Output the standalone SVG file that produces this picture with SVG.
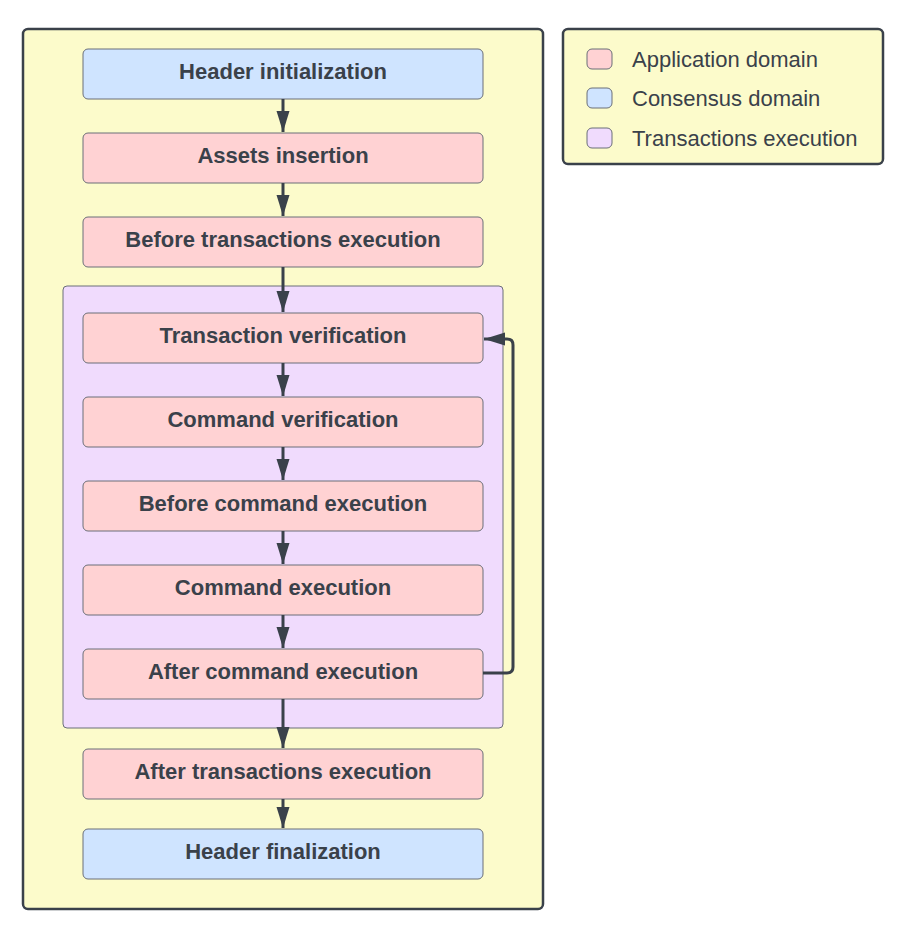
<svg xmlns="http://www.w3.org/2000/svg" width="906" height="931" viewBox="0 0 906 931">
<defs>
<style>
.cont{fill:#fcfbcb;stroke:#3a414a;stroke-width:2.5}
.grp{fill:#f0dbfd;stroke:#6b6f78;stroke-width:1}
.app{fill:#ffd2d3;stroke:#6b6f78;stroke-width:1}
.cons{fill:#cfe4ff;stroke:#6b6f78;stroke-width:1}
.lbl{font-family:"Liberation Sans",Arial,sans-serif;font-weight:bold;font-size:22px;fill:#3a414a;text-anchor:middle}
.leg{font-family:"Liberation Sans",Arial,sans-serif;font-size:22px;fill:#3a414a}
.edge{fill:none;stroke:#3a414a;stroke-width:3}
</style>
<marker id="ah" markerWidth="21" markerHeight="14" viewBox="0 0 21 14" refX="21" refY="7" orient="auto" markerUnits="userSpaceOnUse">
<path d="M0,0.5 L21,7 L0,13.5 Z" fill="#3a414a"/>
</marker>
</defs>
<g id="container"><rect class="cont" x="23" y="29" width="520" height="880" rx="5"/></g>
<g id="legend">
<rect class="cont" x="563" y="29" width="320" height="135" rx="5"/>
<rect class="app" x="587" y="49" width="25" height="20" rx="5"/>
<rect class="cons" x="587" y="88" width="25" height="20" rx="5"/>
<rect class="grp" x="587" y="128" width="25" height="20" rx="5"/>
<text class="leg" x="632" y="67">Application domain</text>
<text class="leg" x="632" y="106">Consensus domain</text>
<text class="leg" x="632" y="146">Transactions execution</text>
</g>
<g id="tx-group"><rect class="grp" x="63" y="286" width="440" height="442" rx="4"/></g>
<g id="n1"><rect class="cons" x="83" y="49" width="400" height="50" rx="5"/><text class="lbl" x="283" y="79">Header initialization</text></g>
<g id="n2"><rect class="app" x="83" y="133" width="400" height="50" rx="5"/><text class="lbl" x="283" y="163">Assets insertion</text></g>
<g id="n3"><rect class="app" x="83" y="217" width="400" height="50" rx="5"/><text class="lbl" x="283" y="247">Before transactions execution</text></g>
<g id="n4"><rect class="app" x="83" y="313" width="400" height="50" rx="5"/><text class="lbl" x="283" y="343">Transaction verification</text></g>
<g id="n5"><rect class="app" x="83" y="397" width="400" height="50" rx="5"/><text class="lbl" x="283" y="427">Command verification</text></g>
<g id="n6"><rect class="app" x="83" y="481" width="400" height="50" rx="5"/><text class="lbl" x="283" y="511">Before command execution</text></g>
<g id="n7"><rect class="app" x="83" y="565" width="400" height="50" rx="5"/><text class="lbl" x="283" y="595">Command execution</text></g>
<g id="n8"><rect class="app" x="83" y="649" width="400" height="50" rx="5"/><text class="lbl" x="283" y="679">After command execution</text></g>
<g id="n9"><rect class="app" x="83" y="749" width="400" height="50" rx="5"/><text class="lbl" x="283" y="779">After transactions execution</text></g>
<g id="n10"><rect class="cons" x="83" y="829" width="400" height="50" rx="5"/><text class="lbl" x="283" y="859">Header finalization</text></g>
<g id="connectors">
<path class="edge" d="M283,99 V132" marker-end="url(#ah)"/>
<path class="edge" d="M283,183 V216" marker-end="url(#ah)"/>
<path class="edge" d="M283,267 V312" marker-end="url(#ah)"/>
<path class="edge" d="M283,363 V396" marker-end="url(#ah)"/>
<path class="edge" d="M283,447 V480" marker-end="url(#ah)"/>
<path class="edge" d="M283,531 V564" marker-end="url(#ah)"/>
<path class="edge" d="M283,615 V648" marker-end="url(#ah)"/>
<path class="edge" d="M283,699 V748" marker-end="url(#ah)"/>
<path class="edge" d="M283,799 V828" marker-end="url(#ah)"/>
<path class="edge" d="M483,673 H507 Q513,673 513,667 V345 Q513,339 507,339 H484" marker-end="url(#ah)"/>
</g>
</svg>
